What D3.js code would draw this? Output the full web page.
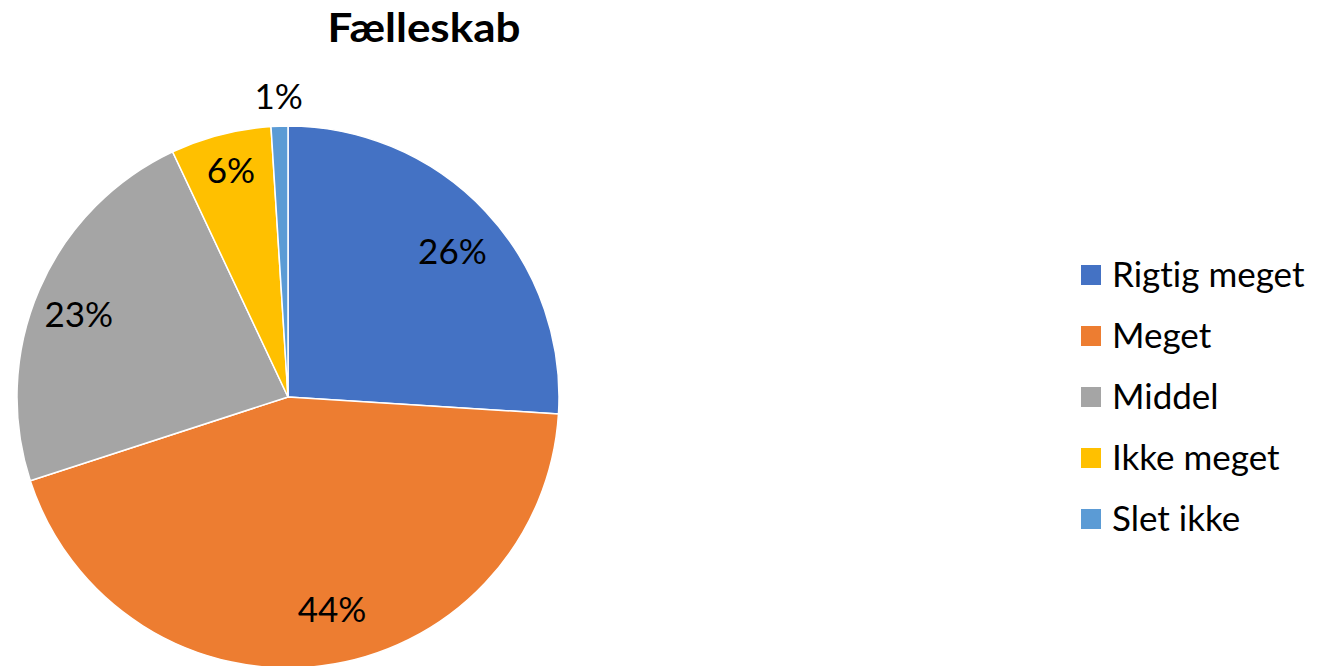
<!DOCTYPE html>
<html><head><meta charset="utf-8">
<script src="https://cdn.jsdelivr.net/npm/d3@7"></script>
<style>body{margin:0;background:#fff}svg{display:block}</style>
</head><body>
<script>
const categories = ["Rigtig meget","Meget","Middel","Ikke meget","Slet ikke"];
const values = [26,44,23,6,1];
const labels = ["26%","44%","23%","6%","1%"];
const colors = ["#4472C4","#ED7D31","#A5A5A5","#FFC000","#5B9BD5"];
const title = "Fælleskab";

const W=1335,H=666, cx=288, cy=397, R=271;
const font = "Lato, 'Open Sans', sans-serif";
const svg=d3.select("body").append("svg").attr("width",W).attr("height",H);

svg.append("text").attr("x",424).attr("y",42).attr("text-anchor","middle")
  .attr("font-family",font).attr("font-weight","bold").attr("font-size",40)
  .attr("textLength",193).attr("lengthAdjust","spacingAndGlyphs").text(title);

const pie=d3.pie().sort(null).value(d=>d);
const arcs=pie(values);
const arc=d3.arc().innerRadius(0).outerRadius(R);
const g=svg.append("g").attr("transform",`translate(${cx},${cy})`);
g.selectAll("path").data(arcs).join("path").attr("d",arc)
  .attr("fill",(d,i)=>colors[i]).attr("stroke","#fff").attr("stroke-width",1.5);

const lr = [0.81,0.80,0.83,0.86,1.11];
const lda = [1.7,-4.5,-1.9,0.2,0];
g.selectAll("text.lbl").data(arcs).join("text").attr("class","lbl")
  .attr("transform",(d,i)=>{const a=(d.startAngle+d.endAngle)/2+lda[i]*Math.PI/180; const r=R*lr[i];
     return `translate(${Math.sin(a)*r},${-Math.cos(a)*r})`;})
  .attr("text-anchor","middle").attr("dy","0.35em")
  .attr("font-family",font).attr("font-size",35).attr("fill","#000")
  .text((d,i)=>labels[i]);

const leg=svg.append("g");
const ly=d3.scalePoint().domain(categories).range([275,519]);
categories.forEach((c,i)=>{
  leg.append("rect").attr("x",1081).attr("y",ly(c)-10).attr("width",20).attr("height",20).attr("fill",colors[i]);
  leg.append("text").attr("x",1112).attr("y",ly(c)).attr("dy","0.35em")
    .attr("font-family",font).attr("font-size",35).style("font-variant-ligatures","none").text(c);
});
</script>
</body></html>
